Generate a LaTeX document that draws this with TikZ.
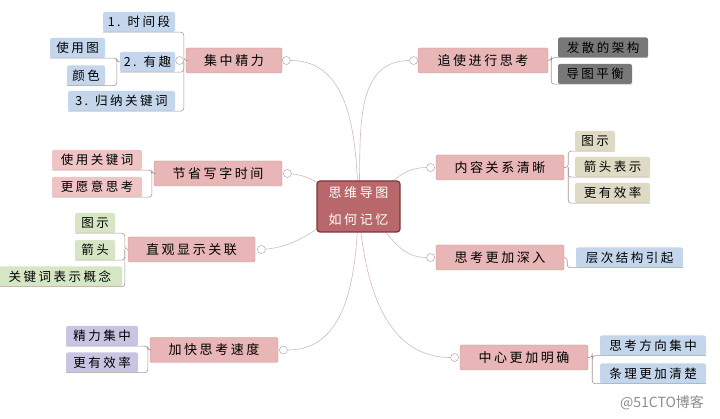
\documentclass[tikz,border=0pt]{standalone}
\usepackage{fontspec}
\setmainfont[LetterSpace=20]{Noto Sans CJK SC}
\newfontfamily\wmfont{Noto Sans CJK SC}
\usetikzlibrary{positioning}
\definecolor{hubred}{RGB}{184,104,106}
\definecolor{hubdark}{RGB}{128,52,56}
\definecolor{topicpink}{RGB}{232,182,182}
\definecolor{topicedge}{RGB}{206,150,150}
\definecolor{leafblue}{RGB}{196,214,236}
\definecolor{leafgray}{RGB}{120,120,120}
\definecolor{leafpink}{RGB}{238,196,196}
\definecolor{leafbeige}{RGB}{222,218,196}
\definecolor{leafgreen}{RGB}{214,230,196}
\definecolor{leaflilac}{RGB}{200,196,226}
\definecolor{linkpink}{RGB}{214,186,186}
\definecolor{twiggray}{RGB}{168,150,150}

\begin{document}
\begin{tikzpicture}[
    x=1pt, y=-1pt,
    hub/.style={draw=hubdark, fill=hubred, line width=1.2pt, rounded corners=3pt,
                minimum width=83, minimum height=51, inner sep=0, align=center,
                text=white, font=\fontsize{13}{27}\selectfont},
    topic/.style={draw=topicedge, fill=topicpink, rounded corners=1.5pt,
                  minimum height=25, inner sep=0, font=\fontsize{13}{15}\selectfont},
    leaf/.style={fill=#1, rounded corners=2pt, minimum height=20, inner sep=0,
                 font=\fontsize{12.5}{14}\selectfont},
    knob/.style={circle, draw=twiggray, fill=white, minimum size=8, inner sep=0},
    link/.style={draw=linkpink, line width=0.6pt},
    twig/.style={draw=twiggray, line width=0.6pt, rounded corners=3pt}
]
\useasboundingbox[fill=white] (0,0) rectangle (720,419);

% main topics
\node[topic, minimum width=96] (jz) at (234,60.5) {集中精力};
\node[topic, minimum width=130] (ps) at (483,60.5) {追使进行思考};
\node[topic, minimum width=128] (jx) at (218,173.5) {节省写字时间};
\node[topic, minimum width=128] (nr) at (500,167.5) {内容关系清晰};
\node[topic, minimum width=127] (zg) at (191.5,249.5) {直观显示关联};
\node[topic, minimum width=128] (sk) at (500,257.5) {思考更加深入};
\node[topic, minimum width=128] (js) at (214,350) {加快思考速度};
\node[topic, minimum width=128] (zx) at (524,357.5) {中心更加明确};

% leaves
\node[leaf=leafblue, minimum width=72] (ts) at (139,22) {1. 时间段};
\node[leaf=leafblue, minimum width=55] (yq) at (147.5,62) {2. 有趣};
\node[leaf=leafblue, minimum width=55] (sy) at (77.5,48) {使用图};
\node[leaf=leafblue, minimum width=38] (ys) at (86,75.5) {颜色};
\node[leaf=leafblue, minimum width=107] (gn) at (121.5,101) {3. 归纳关键词};

\node[leaf=leafgray, minimum width=90] (fs) at (603,47.5) {发散的架构};
\node[leaf=leafgray, minimum width=74] (dt) at (595,74) {导图平衡};

\node[leaf=leafpink, minimum width=90] (gj) at (97,160) {使用关键词};
\node[leaf=leafpink, minimum width=90] (yy) at (97,187) {更愿意思考};

\node[leaf=leafbeige, minimum width=40] (ns) at (595,141) {图示};
\node[leaf=leafbeige, minimum width=75] (nj) at (612.5,167) {箭头表示};
\node[leaf=leafbeige, minimum width=75] (nx) at (612.5,193) {更有效率};

\node[leaf=leafgreen, minimum width=40] (zs) at (95,223) {图示};
\node[leaf=leafgreen, minimum width=40] (zj) at (95,250) {箭头};
\node[leaf=leafgreen, minimum width=124] (zk) at (60,276.5) {关键词表示概念};

\node[leaf=leafblue, minimum width=107] (cc) at (629.5,257.5) {层次结构引起};

\node[leaf=leaflilac, minimum width=72] (jl) at (102,336) {精力集中};
\node[leaf=leaflilac, minimum width=72] (gx) at (102,362.5) {更有效率};

\node[leaf=leafblue, minimum width=106] (fx) at (653,345.5) {思考方向集中};
\node[leaf=leafblue, minimum width=106] (tl) at (653,373.5) {条理更加清楚};

% twig anchors
\coordinate (yqT) at ([xshift=-3pt]yq.west);
\coordinate (psT) at ([xshift=3pt]ps.east);
\coordinate (jxT) at ([xshift=-2pt]jx.west);
\coordinate (nrT) at ([xshift=4pt]nr.east);
\coordinate (zgT) at ([xshift=-3pt]zg.west);
\coordinate (skT) at ([xshift=3pt]sk.east);
\coordinate (jsT) at ([xshift=-2pt]js.west);
\coordinate (zxT) at ([xshift=4pt]zx.east);

\draw[twig] (ts.south west) -| ([xshift=-2pt]jz.west) -- (jz.west);
\draw[twig] (yq.south west) -| ([xshift=-2pt]jz.west);
\draw[twig] (gn.south west) -| ([xshift=-2pt]jz.west);
\draw[twig] (sy.south west) -| (yqT) -- (yq.west);
\draw[twig] (ys.south west) -| (yqT);
\draw[twig] (fs.south east) -| (psT) -- (ps.east);
\draw[twig] (dt.south east) -| (psT);
\draw[twig] (gj.south west) -| (jxT) -- (jx.west);
\draw[twig] (yy.south west) -| (jxT);
\draw[twig] (ns.south east) -| (nrT) -- (nr.east);
\draw[twig] (nj.south east) -| (nrT);
\draw[twig] (nx.south east) -| (nrT);
\draw[twig] (zs.south west) -| (zgT) -- (zg.west);
\draw[twig] (zj.south west) -| (zgT);
\draw[twig] (zk.south west) -| (zgT);
\draw[twig] (cc.south east) -| (skT) -- (sk.east);
\draw[twig] (jl.south west) -| (jsT) -- (js.west);
\draw[twig] (gx.south west) -| (jsT);
\draw[twig] (fx.south east) -| (zxT) -- (zx.east);
\draw[twig] (tl.south east) -| (zxT);

% knobs
\node[knob, left=2pt of jz] (jzL) {};
\node[knob, right=0pt of jz] (jzR) {};
\node[knob, left=0pt of ps] (psK) {};
\node[knob, right=1pt of jx] (jxK) {};
\node[knob, left=1pt of nr] (nrK) {};
\node[knob, right=2pt of zg] (zgK) {};
\node[knob, left=1pt of sk] (skK) {};
\node[knob, right=1pt of js] (jsK) {};
\node[knob, left=1pt of zx] (zxK) {};

% links from the hub
\coordinate (mmc) at (358.5,206.5);
\draw[link] (mmc) to[out=92,in=0] (jzR);
\draw[link] (mmc) to[out=86,in=180] (psK);
\draw[link] (mmc) to[out=165,in=-5] (jxK);
\draw[link] (mmc) to[out=25,in=180] (nrK);
\draw[link] (mmc) to[out=200,in=5] (zgK);
\draw[link] (mmc) to[out=-30,in=180] (skK);
\draw[link] (mmc) to[out=-92,in=0] (jsK);
\draw[link] (mmc) to[out=-86,in=180] (zxK);

\node[hub] (mm) at (mmc) {思维导图\\如何记忆};

\node[text=black!45, font=\wmfont\fontsize{14}{16}\selectfont] (wm) at (662,403) {@51CTO博客};
\end{tikzpicture}
\end{document}
